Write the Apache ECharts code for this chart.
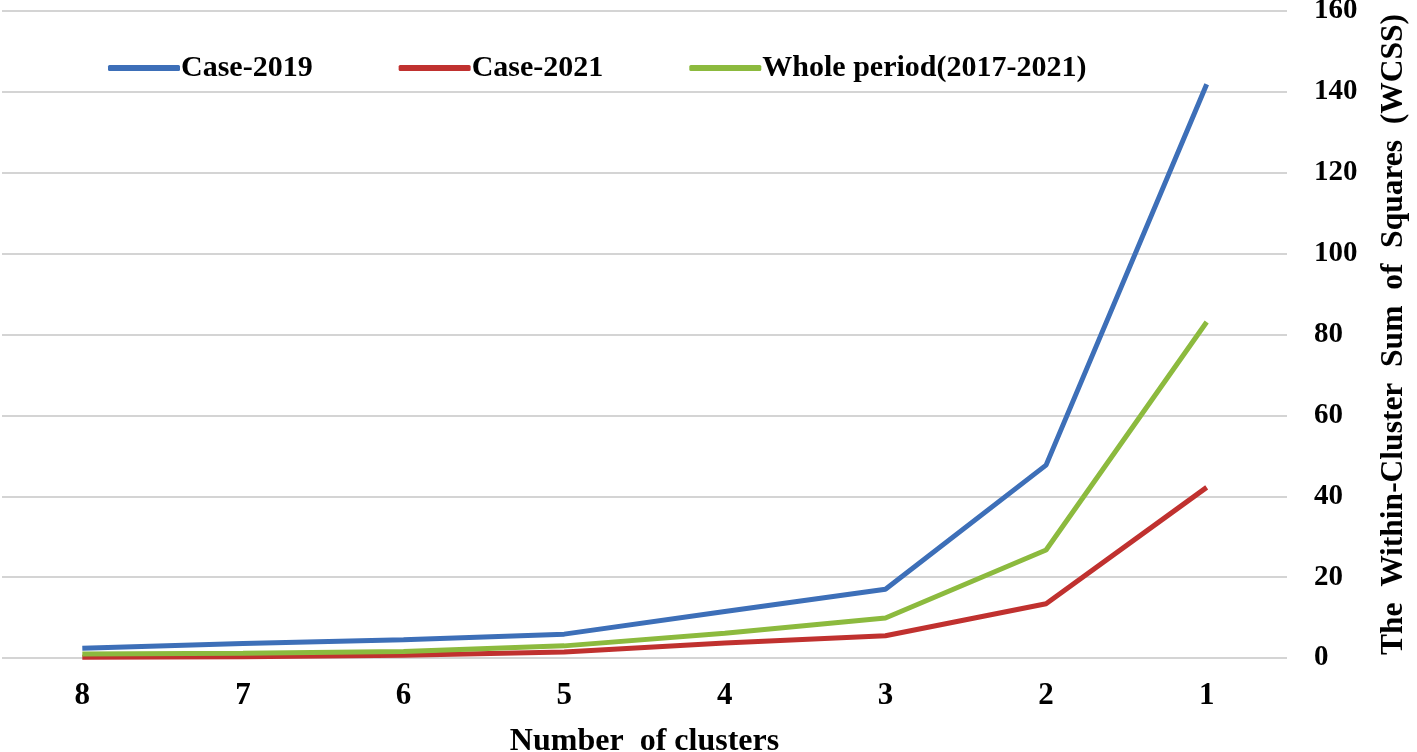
<!DOCTYPE html>
<html>
<head>
<meta charset="utf-8">
<script src="https://cdn.jsdelivr.net/npm/echarts@6/dist/echarts.min.js"></script>
<style>
html,body{margin:0;padding:0;background:#fff;}
#chart{width:1417px;height:752px;}
</style>
</head>
<body>
<div id="chart"></div>
<script>
const categories = ['8', '7', '6', '5', '4', '3', '2', '1'];
const case2019 = [2.4, 3.6, 4.5, 5.9, 11.5, 17.0, 47.7, 141.9];
const case2021 = [0.2, 0.3, 0.7, 1.5, 3.7, 5.5, 13.4, 42.2];
const wholePeriod = [1.0, 1.2, 1.6, 3.0, 6.1, 9.9, 26.7, 83.1];
const yTicks = { min: 0, max: 160, interval: 20 };

const font = 'Liberation Serif';
const chart = echarts.init(document.getElementById('chart'));
chart.setOption({
  backgroundColor: '#fff',
  animation: false,
  grid: { left: 2, right: 130, top: 11, bottom: 94, containLabel: false, outerBoundsMode: 'none' },
  legend: {
    left: 108, top: 53, padding: 0,
    itemWidth: 72, itemHeight: 6, itemGap: 86,
    icon: 'roundRect',
    textStyle: { fontFamily: font, fontWeight: 'bold', fontSize: 30, color: '#000', padding: [0, 0, 0, -4] },
    data: ['Case-2019', 'Case-2021', 'Whole period(2017-2021)']
  },
  xAxis: {
    type: 'category',
    data: categories,
    boundaryGap: true,
    axisLine: { show: false },
    axisTick: { show: false },
    axisLabel: { fontFamily: font, fontWeight: 'bold', fontSize: 31, color: '#000', margin: 22 },
    name: 'Number  of clusters',
    nameLocation: 'middle',
    nameGap: 68,
    nameTextStyle: { fontFamily: font, fontWeight: 'bold', fontSize: 32, color: '#000' }
  },
  yAxis: {
    type: 'value',
    position: 'right',
    min: yTicks.min, max: yTicks.max, interval: yTicks.interval,
    axisLine: { show: false },
    axisTick: { show: false },
    splitLine: { lineStyle: { color: '#d4d4d4', width: 2 } },
    axisLabel: { fontFamily: font, fontWeight: 'bold', fontSize: 29, color: '#000', margin: 27 },
    name: 'The  Within-Cluster  Sum  of  Squares  (WCSS)',
    nameLocation: 'middle',
    nameRotate: 90,
    nameGap: 91,
    nameTextStyle: { fontFamily: font, fontWeight: 'bold', fontSize: 31.5, color: '#000' }
  },
  series: [
    { name: 'Case-2019', type: 'line', data: case2019, showSymbol: false, symbol: 'none',
      lineStyle: { width: 5, color: '#3d6fb8' }, itemStyle: { color: '#3d6fb8' } },
    { name: 'Case-2021', type: 'line', data: case2021, showSymbol: false, symbol: 'none',
      lineStyle: { width: 5, color: '#c0312f' }, itemStyle: { color: '#c0312f' } },
    { name: 'Whole period(2017-2021)', type: 'line', data: wholePeriod, showSymbol: false, symbol: 'none',
      lineStyle: { width: 5, color: '#8cba3e' }, itemStyle: { color: '#8cba3e' } }
  ]
});
</script>
</body>
</html>
